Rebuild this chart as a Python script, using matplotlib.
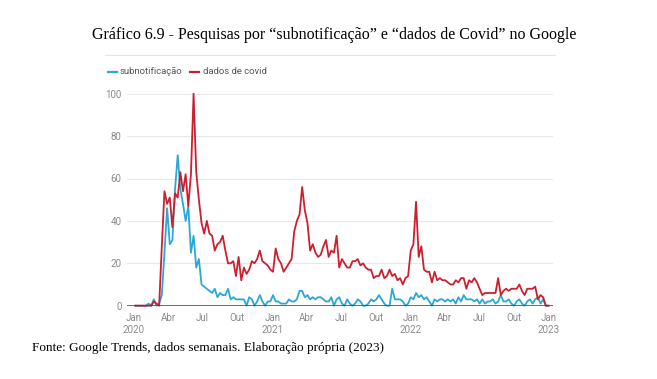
import matplotlib
matplotlib.use("Agg")
import matplotlib.pyplot as plt
import matplotlib.dates as mdates
from matplotlib.lines import Line2D
import numpy as np
import pandas as pd

# weekly Google Trends values, first week 2020-01-05
semanas = pd.date_range("2020-01-05", periods=157, freq="7D")

dados_covid = [
    0, 0, 0, 0, 0, 0, 0, 2, 1, 0,
    28, 54, 48, 51, 37, 53, 51, 63, 54, 62,
    47, 62, 100, 63, 50, 39, 34, 40, 34, 33,
    26, 29, 30, 33, 26, 20, 20, 21, 14, 23,
    12, 18, 15, 17, 21, 20, 22, 26, 21, 20,
    19, 17, 16, 27, 22, 20, 16, 18, 20, 22,
    35, 40, 43, 56, 45, 39, 26, 29, 25, 23,
    24, 28, 31, 23, 26, 25, 33, 18, 22, 20,
    18, 18, 21, 21, 22, 19, 20, 18, 17, 17,
    13, 14, 14, 17, 13, 14, 17, 14, 15, 12,
    13, 10, 13, 14, 26, 29, 49, 23, 28, 17,
    16, 16, 11, 16, 12, 13, 12, 12, 11, 10,
    10, 12, 11, 13, 13, 8, 12, 11, 13, 11,
    8, 5, 6, 6, 6, 6, 6, 13, 5, 7,
    8, 7, 8, 8, 8, 10, 7, 5, 8, 8,
    8, 9, 3, 5, 4, 0, 0,
]

subnotificacao = [
    0, 0, 0, 0, 0, 1, 0, 3, 0, 1,
    5, 25, 46, 29, 31, 55, 71, 55, 48, 40,
    47, 25, 33, 18, 22, 10, 9, 8, 7, 6,
    8, 4, 6, 5, 5, 8, 3, 4, 3, 3,
    3, 3, 0, 4, 3, 0, 2, 5, 2, 0,
    2, 2, 5, 2, 2, 1, 1, 1, 3, 2,
    2, 3, 7, 7, 4, 5, 3, 4, 3, 4,
    4, 3, 2, 2, 4, 0, 3, 4, 1, 0,
    3, 1, 0, 1, 3, 2, 0, 0, 1, 3,
    2, 3, 5, 3, 1, 0, 0, 8, 3, 3,
    3, 2, 0, 1, 4, 3, 6, 4, 5, 3,
    4, 2, 0, 3, 2, 3, 3, 2, 3, 2,
    3, 1, 4, 2, 5, 3, 3, 3, 2, 3,
    1, 3, 1, 2, 2, 3, 1, 2, 5, 2,
    2, 3, 1, 0, 2, 3, 1, 0, 2, 3,
    1, 3, 4, 1, 3, 0, 0,
]

tick_datas = pd.date_range("2020-01-01", "2023-01-01", freq="QS")
tick_rotulos = []
for d in tick_datas:
    mes = {1: "Jan", 4: "Abr", 7: "Jul", 10: "Out"}[d.month]
    tick_rotulos.append(f"{mes}\n{d.year}" if d.month == 1 else mes)

azul = "#2ba8d4"
vermelho = "#cc1f30"
W, H = 657, 379

fig = plt.figure(figsize=(W / 100, H / 100), dpi=100)
fig.patch.set_facecolor("white")

left, right, top, bottom = 127, 553, 93.7, 305.7
ax = fig.add_axes([left / W, 1 - bottom / H, (right - left) / W, (bottom - top) / H])

ax.plot(semanas, subnotificacao, color=azul, lw=1.3, clip_on=False, zorder=3)
ax.plot(semanas, dados_covid, color=vermelho, lw=1.3, clip_on=False, zorder=4)

ax.set_ylim(0, 100)
ax.set_xlim(pd.Timestamp("2019-12-14"), pd.Timestamp("2023-01-13"))
ax.set_yticks([0, 20, 40, 60, 80, 100])
for v in [20, 40, 60, 80, 100]:
    ax.axhline(v, color="#e8e8e8", lw=0.8, zorder=1)
ax.axhline(0, color="#444444", lw=1.1, zorder=5)

ax.set_xticks(tick_datas)
ax.set_xticklabels(tick_rotulos)
ax.tick_params(length=0, labelsize=7, labelcolor="#8a8a8a")
ax.tick_params(axis="y", pad=4)
ax.tick_params(axis="x", pad=5)
for lbl in ax.get_xticklabels() + ax.get_yticklabels():
    lbl.set_family("Roboto")
    lbl.set_linespacing(1.25)
for s in ax.spines.values():
    s.set_visible(False)

# thin separator line above the legend
fig.add_artist(Line2D([105 / W, 555 / W], [1 - 55 / H] * 2, color="#e4e4e4", lw=0.8))

# legend
ly = 1 - 71.7 / H
fig.add_artist(Line2D([108 / W, 117 / W], [ly, ly], color=azul, lw=1.6))
fig.text(120 / W, ly, "subnotificação", fontsize=6.8, color="#555555",
         family="Roboto", va="center")
fig.add_artist(Line2D([190 / W, 199 / W], [ly, ly], color=vermelho, lw=1.6))
fig.text(203 / W, ly, "dados de covid", fontsize=6.8, color="#555555",
         family="Roboto", va="center")

fig.text(334 / W, 1 - 35 / H,
         "Gráfico 6.9 - Pesquisas por “subnotificação” e “dados de Covid” no Google",
         family="Liberation Serif", fontsize=11.5, ha="center", va="center")
fig.text(32 / W, 1 - 348 / H,
         "Fonte: Google Trends, dados semanais. Elaboração própria (2023)",
         family="Liberation Serif", fontsize=9.5, ha="left", va="center")

fig.savefig("out.png", dpi=100, facecolor="white")
